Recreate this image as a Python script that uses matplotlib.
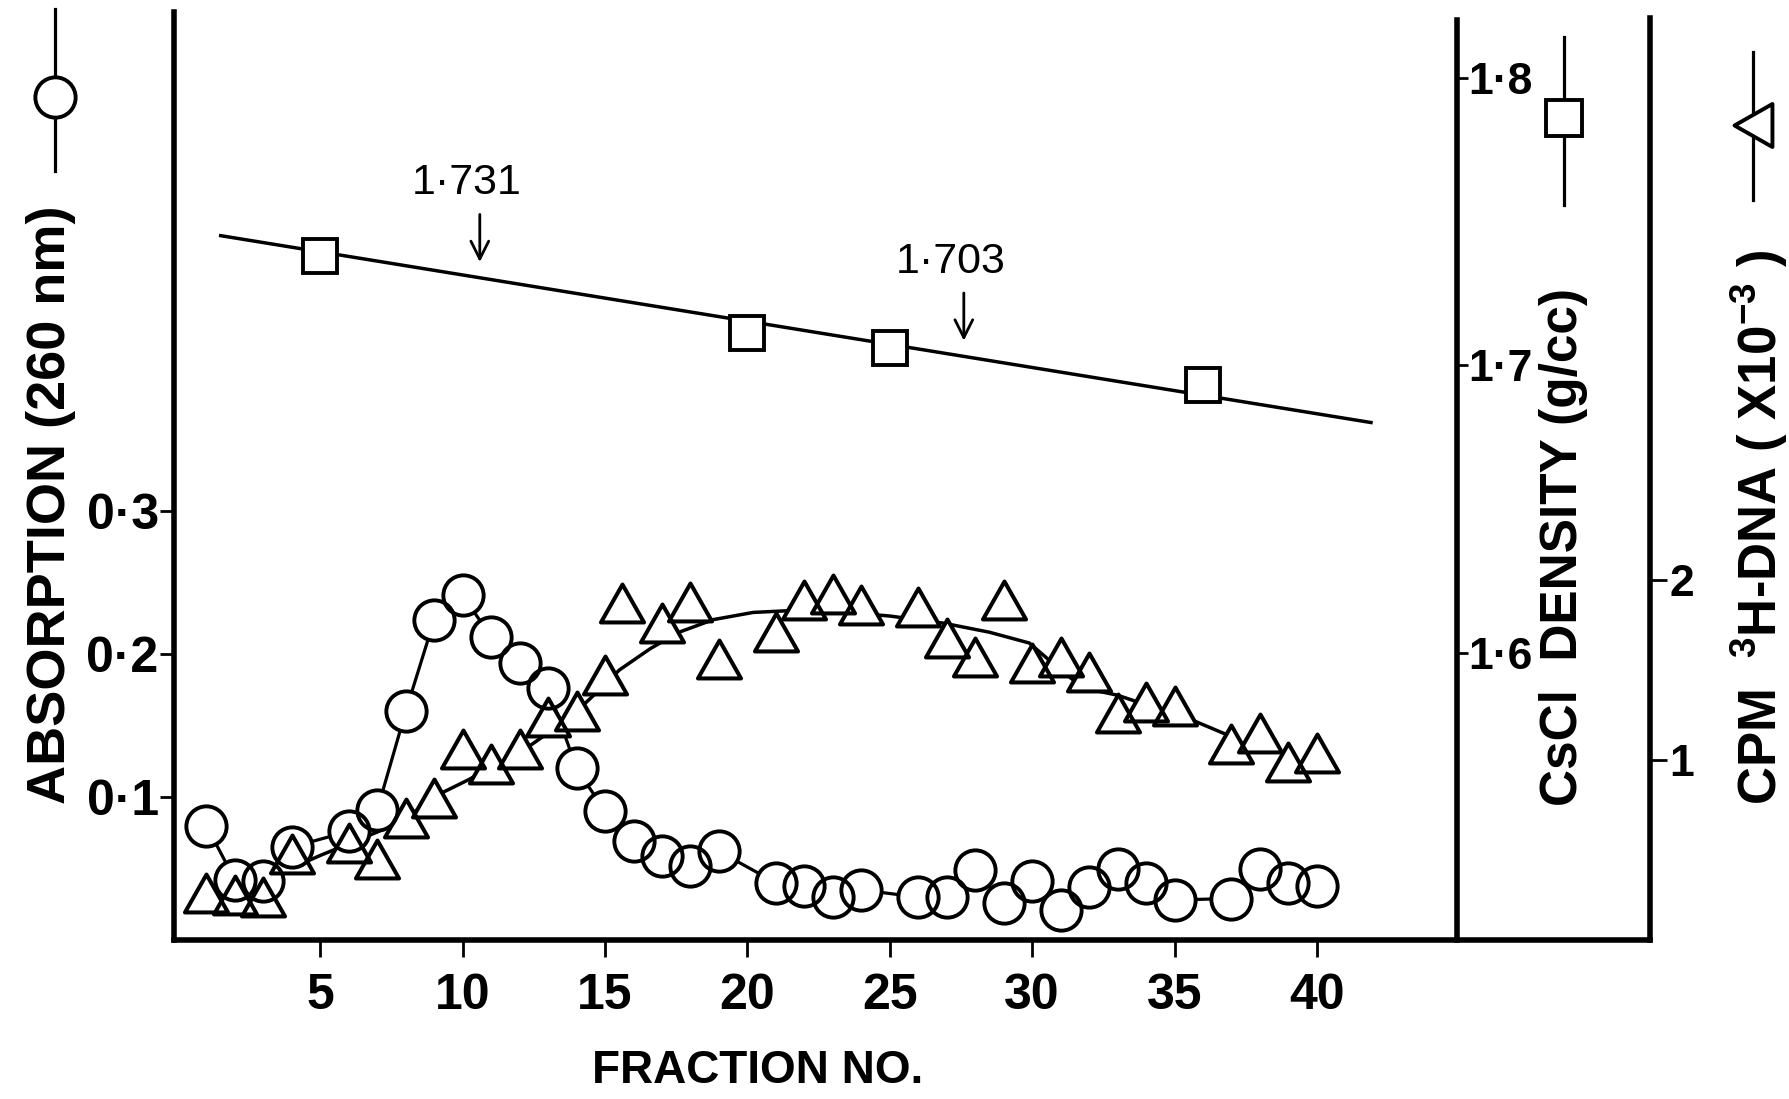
# -*- coding: utf8
'''
CsCl gradient profile: absorption at 260 nm, CsCl density and
3H-DNA counts for each fraction, with three y axes.
'''
import matplotlib
matplotlib.use('Agg')
from matplotlib import pyplot as plt
from matplotlib import font_manager
from matplotlib.lines import Line2D
from matplotlib.path import Path

# absorption (260 nm), circles
abs_frac = [1, 2, 3, 4, 6, 7, 8, 9, 10, 11, 12, 13, 14, 15, 16, 17, 18, 19,
            21, 22, 23, 24, 26, 27, 28, 29, 30, 31, 32, 33, 34, 35,
            37, 38, 39, 40]
abs_val = [0.080, 0.042, 0.041, 0.065, 0.076, 0.091, 0.160, 0.224, 0.241,
           0.212, 0.194, 0.176, 0.120, 0.090, 0.069, 0.059, 0.052, 0.062,
           0.040, 0.038, 0.030, 0.035, 0.030, 0.030, 0.049, 0.026, 0.041,
           0.021, 0.037, 0.050, 0.040, 0.028, 0.029, 0.050, 0.040, 0.038]

# CsCl density (g/cc), squares and the drawn straight line
dens_frac = [5, 20, 25, 36]
dens_val = [1.738, 1.711, 1.706, 1.693]
dens_line_frac = [1.5, 41.9]
dens_line_val = [1.745, 1.680]

# CPM 3H-DNA (x10^-3), triangles and the hand drawn curve
cpm_frac = [1, 2, 3, 4, 6, 7, 8, 9, 10, 11, 12, 13, 14, 15, 15.6, 17, 18, 19,
            21, 22, 23, 24, 26, 27, 28, 29, 30, 31, 32, 33, 34, 35,
            37, 38, 39, 40]
cpm_val = [0.26, 0.25, 0.24, 0.48, 0.54, 0.45, 0.68, 0.79, 1.06, 0.98, 1.06,
           1.24, 1.27, 1.47, 1.87, 1.76, 1.88, 1.56, 1.71, 1.89, 1.92, 1.86,
           1.85, 1.68, 1.57, 1.89, 1.54, 1.57, 1.49, 1.26, 1.32, 1.30, 1.09,
           1.15, 0.99, 1.04]
cpm_curve_frac = [1, 3, 5, 7, 8, 9.3, 10.2, 11, 12, 13, 14, 15, 15.5, 16.6,
                  17.6, 18.8, 20.2, 21.5, 23.5, 25, 26.9, 28.5, 29.9, 31,
                  31.8, 33, 34.5, 35.5, 36.7, 37.2]
cpm_curve_val = [0.27, 0.33, 0.47, 0.60, 0.68, 0.82, 0.89, 0.96, 1.04, 1.15,
                 1.27, 1.42, 1.50, 1.62, 1.71, 1.78, 1.82, 1.83, 1.82, 1.80,
                 1.76, 1.71, 1.65, 1.50, 1.40, 1.36, 1.28, 1.23, 1.15, 1.12]

# buoyant density arrows
peak_labels = ['1·731', '1·703']
peak_frac = [10.6, 27.6]

x_ticks = [5, 10, 15, 20, 25, 30, 35, 40]
abs_ticks = [0.1, 0.2, 0.3]
abs_tick_labels = ['0·1', '0·2', '0·3']
dens_ticks = [1.6, 1.7, 1.8]
dens_tick_labels = ['1·6', '1·7', '1·8']
cpm_ticks = [1, 2]
cpm_tick_labels = ['1', '2']

W, H = 1790, 1099


def fxy(x, y):
    '''pixel position -> figure fraction'''
    return x / W, 1 - y / H


def pick_font(names):
    have = set(f.name for f in font_manager.fontManager.ttflist)
    for n in names:
        if n in have:
            return n
    return 'DejaVu Sans'


BOLD = pick_font(['Liberation Sans', 'Arial', 'DejaVu Sans'])
NARROW = pick_font(['Liberation Sans Narrow', 'Liberation Sans', 'DejaVu Sans'])
plt.rcParams['font.family'] = [BOLD, 'DejaVu Sans']
plt.rcParams['mathtext.fontset'] = 'custom'
plt.rcParams['mathtext.rm'] = BOLD + ':bold'
plt.rcParams['mathtext.bf'] = BOLD + ':bold'

TRI_UP = Path([(-1, -0.88), (1, -0.88), (0, 0.88), (-1, -0.88)],
              [Path.MOVETO, Path.LINETO, Path.LINETO, Path.CLOSEPOLY])
TRI_LEFT = Path([(0.88, -1), (0.88, 1), (-0.88, 0), (0.88, -1)],
                [Path.MOVETO, Path.LINETO, Path.LINETO, Path.CLOSEPOLY])


def markers(ax, x, y, marker, size, mew, trans):
    # white fill hides the joining line, outline drawn on top of all fills
    ax.plot(x, y, ls='none', marker=marker, ms=size, mfc='white',
            mec='white', mew=0, transform=trans, zorder=3)
    ax.plot(x, y, ls='none', marker=marker, ms=size, mfc='none',
            mec='black', mew=mew, transform=trans, zorder=4)


def main():
    fig = plt.figure(figsize=(W / 100, H / 100), dpi=100)
    left, right, bottom, top = 174, 1650, 940, 12
    ax = fig.add_axes([left / W, 1 - bottom / H, (right - left) / W,
                       (bottom - top) / H])
    ax_den = ax.twinx()
    ax_cpm = ax.twinx()

    ax.set_xlim(-0.14, 51.7)
    ax.set_ylim(0, 0.649)
    ax_den.set_ylim(1.5, 1.8228)
    ax_cpm.set_ylim(0, 5.156)

    # lines
    ax.plot(abs_frac, abs_val, color='black', lw=2.3, zorder=2)
    ax.plot(dens_line_frac, dens_line_val, color='black', lw=2.5, zorder=2,
            transform=ax_den.transData)
    ax.plot(cpm_curve_frac, cpm_curve_val, color='black', lw=2.5, zorder=2,
            transform=ax_cpm.transData)
    # markers
    markers(ax, abs_frac, abs_val, 'o', 29, 2.8, ax.transData)
    markers(ax, dens_frac, dens_val, 's', 25, 2.8, ax_den.transData)
    markers(ax, cpm_frac, cpm_val, TRI_UP, 31, 2.9, ax_cpm.transData)

    # density arrows
    line_slope = ((dens_line_val[1] - dens_line_val[0]) /
                  (dens_line_frac[1] - dens_line_frac[0]))
    for lbl, xf in zip(peak_labels, peak_frac):
        yline = dens_line_val[0] + line_slope * (xf - dens_line_frac[0])
        tip = yline + 0.0045
        ax_den.annotate('', xy=(xf, tip), xytext=(xf, tip + 0.0185),
                        arrowprops=dict(arrowstyle='->', lw=2,
                                        mutation_scale=32, color='black'))
        ax_den.text(xf - 0.45, tip + 0.0285, lbl, ha='center', va='center',
                    fontsize=31, family=NARROW)

    # spines
    for a in (ax, ax_den, ax_cpm):
        for s in a.spines.values():
            s.set_linewidth(4)
            s.set_capstyle('projecting')
    ax.spines['top'].set_visible(False)
    ax.spines['right'].set_visible(False)
    for a in (ax_den, ax_cpm):
        for side in ('top', 'left', 'bottom'):
            a.spines[side].set_visible(False)
    ax_den.spines['right'].set_position(('axes', 0.8692))
    ax_den.spines['right'].set_bounds(1.5, 1.82)
    ax_cpm.spines['right'].set_bounds(0, 5.12)

    # ticks
    ax.set_xticks(x_ticks, [str(t) for t in x_ticks], fontweight='bold')
    ax.tick_params(axis='x', direction='out', length=12, width=2, pad=12,
                   labelsize=36)
    ax.set_yticks(abs_ticks, abs_tick_labels, fontweight='bold')
    ax.tick_params(axis='y', direction='out', length=10, width=2, pad=1,
                   labelsize=36)
    ax_den.set_yticks(dens_ticks, dens_tick_labels, fontweight='bold')
    ax_den.tick_params(axis='y', direction='out', length=8, width=2, pad=0,
                       labelsize=32)
    ax_cpm.set_yticks(cpm_ticks, cpm_tick_labels, fontweight='bold')
    ax_cpm.tick_params(axis='y', direction='out', length=12, width=2, pad=2,
                       labelsize=32)

    # axis titles
    fig.text(*fxy(758, 1071), 'FRACTION NO.', ha='center',
             va='center', fontsize=33, fontweight='bold')
    fig.text(*fxy(51, 505), 'ABSORPTION (260 nm)', rotation=90, ha='center',
             va='center', fontsize=39, fontweight='bold')
    fig.text(*fxy(1563, 547), 'CsCl  DENSITY (g/cc)', rotation=90,
             ha='center', va='center', fontsize=37, fontweight='bold')
    fig.text(*fxy(1759, 527),
             r'CPM  $\mathregular{^{3}}$H-DNA ( X10$\mathregular{^{-3}}$ )',
             rotation=90, ha='center', va='center', fontsize=38,
             fontweight='bold')

    # key symbols beside the axis titles
    keys = [(55, 9, 171, 97, 'o', 29), (1564, 37, 205, 118, 's', 26),
            (1753, 52, 200, 125, TRI_LEFT, 31)]
    for kx, y0, y1, ym, mk, ms in keys:
        x, ya = fxy(kx, y0)
        _, yb = fxy(kx, y1)
        _, yc = fxy(kx, ym)
        fig.add_artist(Line2D([x, x], [ya, yb], color='black', lw=2.3,
                              transform=fig.transFigure))
        fig.add_artist(Line2D([x], [yc], marker=mk, ms=ms, mfc='white',
                              mec='black', mew=2.8, ls='none',
                              transform=fig.transFigure))

    fig.savefig('out.png', dpi=100)


if __name__ == '__main__':
    main()
